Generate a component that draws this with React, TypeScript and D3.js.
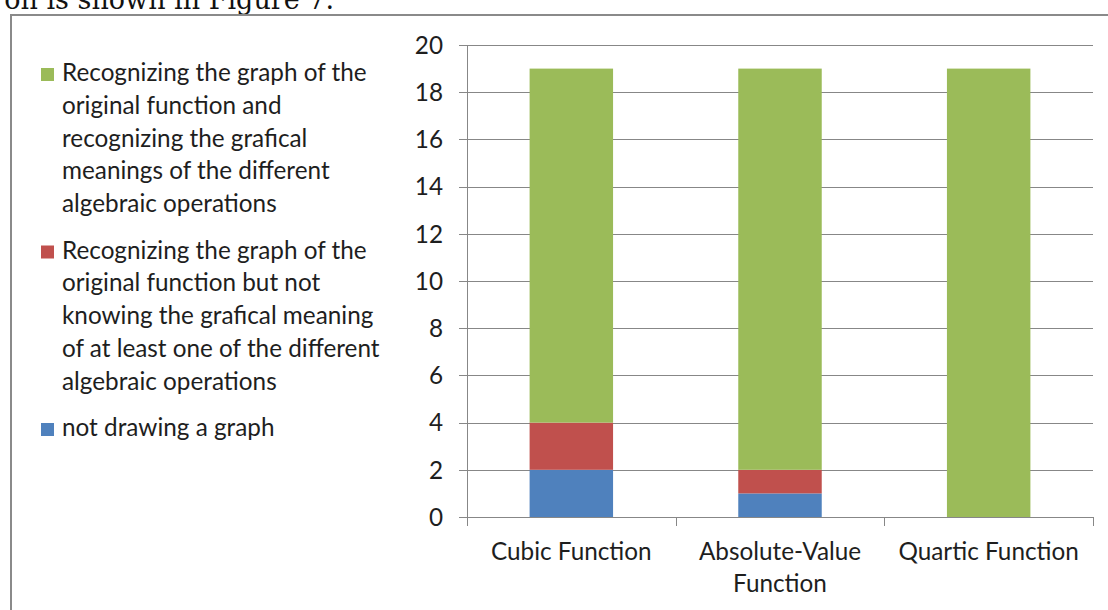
import React, { useEffect, useRef } from "react";
import * as d3 from "d3";

// data
const categories = ["Cubic Function", "Absolute-Value Function", "Quartic Function"];
const categoryLines = [["Cubic Function"], ["Absolute-Value", "Function"], ["Quartic Function"]];
const notDrawing = [2, 1, 0];
const notKnowing = [2, 1, 0];
const recognizing = [15, 17, 19];
const yTicks = [0, 2, 4, 6, 8, 10, 12, 14, 16, 18, 20];

const seriesKeys = ["notDrawing", "notKnowing", "recognizing"];
const seriesColors = ["#4F81BD", "#C0504D", "#9BBB59"];
// legend is listed top-down in reverse stack order
const legendLines = [
  [
    "Recognizing the graph of the",
    "original function and",
    "recognizing the grafical",
    "meanings of the different",
    "algebraic operations",
  ],
  [
    "Recognizing the graph of the",
    "original function but not",
    "knowing the grafical meaning",
    "of at least one of the different",
    "algebraic operations",
  ],
  ["not drawing a graph"],
];
const legendColors = ["#9BBB59", "#C0504D", "#4F81BD"];

const font = "Lato, 'Open Sans', sans-serif";
const fontSize = 24.3;
const textColor = "#1e1e1e";
const gridColor = "#878787";

export default function App() {
  const chartRef = useRef<SVGSVGElement>(null);

  useEffect(() => {
    const svg = d3.select(chartRef.current);
    svg.selectAll("*").remove();

    const width = 1108;
    const height = 610;
    const left = 467;
    const right = 1093;
    const top = 45;
    const bottom = 517;

    // bits of the page around the chart
    svg
      .append("text")
      .attr("x", 334)
      .attr("y", 8.5)
      .attr("text-anchor", "end")
      .attr("font-family", "'DejaVu Serif', 'Liberation Serif', serif")
      .attr("font-size", 27)
      .attr("fill", "#111")
      .text("on is shown in Figure 7.");

    svg
      .append("path")
      .attr("d", `M${width},15 H11 V${height}`)
      .attr("fill", "none")
      .attr("stroke", "#8a8a8a")
      .attr("stroke-width", 2);

    const rows = categories.map((c, i) => ({
      category: c,
      notDrawing: notDrawing[i],
      notKnowing: notKnowing[i],
      recognizing: recognizing[i],
    }));

    const x = d3
      .scaleBand()
      .domain(categories)
      .range([left, right])
      .paddingInner(0.6)
      .paddingOuter(0.3);

    const y = d3.scaleLinear().domain([0, 20]).range([bottom, top]);

    // grid lines
    svg
      .append("g")
      .selectAll("line")
      .data(yTicks)
      .enter()
      .append("line")
      .attr("x1", left - 8)
      .attr("x2", right)
      .attr("y1", (d) => Math.round(y(d)) + 0.5)
      .attr("y2", (d) => Math.round(y(d)) + 0.5)
      .attr("stroke", gridColor)
      .attr("stroke-width", 1);

    svg
      .append("g")
      .selectAll("text")
      .data(yTicks)
      .enter()
      .append("text")
      .attr("x", 443)
      .attr("y", (d) => y(d))
      .attr("dy", "0.36em")
      .attr("text-anchor", "end")
      .attr("font-family", font)
      .attr("font-size", fontSize)
      .attr("fill", textColor)
      .text((d) => d);

    // stacked bars
    const stack = d3.stack<any>().keys(seriesKeys);
    const series = stack(rows);

    svg
      .append("g")
      .selectAll("g")
      .data(series)
      .enter()
      .append("g")
      .attr("fill", (d, i) => seriesColors[i])
      .selectAll("rect")
      .data((d) => d)
      .enter()
      .append("rect")
      .attr("x", (d) => x(d.data.category))
      .attr("width", x.bandwidth())
      .attr("y", (d) => y(d[1]))
      .attr("height", (d) => y(d[0]) - y(d[1]));

    // axes lines
    svg
      .append("line")
      .attr("x1", left + 0.5)
      .attr("x2", left + 0.5)
      .attr("y1", top)
      .attr("y2", bottom + 9)
      .attr("stroke", gridColor);

    const step = x.step();
    const bounds = d3.range(categories.length + 1).map((i) => left + i * step);
    svg
      .append("g")
      .selectAll("line")
      .data(bounds)
      .enter()
      .append("line")
      .attr("x1", (d) => Math.round(d) + 0.5)
      .attr("x2", (d) => Math.round(d) + 0.5)
      .attr("y1", bottom)
      .attr("y2", bottom + 9)
      .attr("stroke", gridColor);

    // category labels
    const labels = svg
      .append("g")
      .selectAll("text")
      .data(categories)
      .enter()
      .append("text")
      .attr("x", (d) => x(d) + x.bandwidth() / 2)
      .attr("y", 560)
      .attr("text-anchor", "middle")
      .attr("font-family", font)
      .attr("font-size", fontSize)
      .attr("fill", textColor);
    labels
      .selectAll("tspan")
      .data((d, i) => categoryLines[i])
      .enter()
      .append("tspan")
      .attr("x", function () {
        return (this.parentNode as SVGTextElement).getAttribute("x");
      })
      .attr("dy", (d, i) => (i === 0 ? 0 : 32))
      .text((d) => d);

    // legend
    const lineHeight = 32.8;
    const entryGap = 13.5;
    let baseline = 81;
    legendLines.forEach((lines, k) => {
      svg
        .append("rect")
        .attr("x", 41)
        .attr("y", baseline - 13)
        .attr("width", 13)
        .attr("height", 13)
        .attr("fill", legendColors[k]);
      svg
        .append("g")
        .selectAll("text")
        .data(lines)
        .enter()
        .append("text")
        .attr("x", 62)
        .attr("y", (d, i) => baseline + i * lineHeight)
        .attr("font-family", font)
        .attr("font-size", fontSize)
        .attr("fill", textColor)
        .text((d) => d);
      baseline += lines.length * lineHeight + entryGap;
    });
  }, []);

  return (
    <div style={{ position: "absolute", left: 0, top: 0 }}>
      <svg ref={chartRef} width="1108" height="610" style={{ display: "block" }}></svg>
    </div>
  );
}
